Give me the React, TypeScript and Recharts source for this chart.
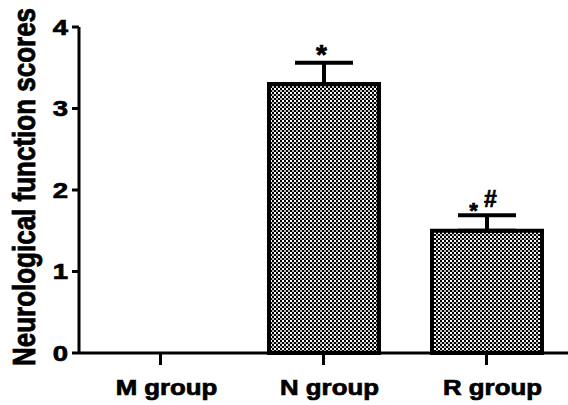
import React from 'react';
import { ComposedChart, Bar, Scatter, XAxis, YAxis, ErrorBar, Label } from 'recharts';

const groups = ['M group', 'N group', 'R group'];
const scores = [0, 3.3, 1.5];
const errors = [null, 0.26, 0.19];
const marks = ['', '*', '*#'];
const yTicks = [0, 1, 2, 3, 4];

const data = groups.map((group, i) => ({
  group,
  score: scores[i],
  err: errors[i] == null ? undefined : [0, errors[i] as number],
  top: errors[i] == null ? null : scores[i] + (errors[i] as number),
  mark: marks[i],
}));

const FONT = '"Liberation Sans", Arial, Helvetica, sans-serif';

// heavier text, close to the thick Helvetica of the original
const txt = {
  fontFamily: FONT,
  fontWeight: 'bold' as const,
  fill: '#000',
  stroke: '#000',
  strokeWidth: 0.7,
};

function XTick({ x, y, payload }: any) {
  return (
    <text transform={`translate(${x + 6}, ${y + 30}) scale(1.2, 1)`} textAnchor="middle" fontSize={21.5} {...txt}>
      {payload.value}
    </text>
  );
}

function YTick({ x, y, payload }: any) {
  return (
    <text transform={`translate(${x}, ${y}) scale(1.25, 1)`} dy="0.36em" textAnchor="end" fontSize={22} {...txt}>
      {payload.value}
    </text>
  );
}

function YTitle() {
  return (
    <text transform="translate(35, 187) rotate(-90) scale(1, 1.18)" textAnchor="middle" fontSize={26} {...txt}>
      Neurological function scores
    </text>
  );
}

function Mark({ cx, cy, payload }: any) {
  if (!payload || !payload.mark || cx == null || cy == null || isNaN(cy)) return null;
  if (payload.mark === '*') {
    return (
      <text x={cx - 2} y={cy + 1} textAnchor="middle" fontSize={28} {...txt}>
        *
      </text>
    );
  }
  return (
    <g>
      <text x={cx - 13} y={cy + 3} textAnchor="middle" fontSize={22} {...txt}>
        *
      </text>
      <text x={cx + 4} y={cy - 8} textAnchor="middle" fontSize={23} {...txt}>
        #
      </text>
    </g>
  );
}

export default function App() {
  return (
    <div style={{ position: 'absolute', left: 0, top: 0, background: '#fff' }}>
      <ComposedChart width={568} height={405} data={data} margin={{ top: 27, right: 0, bottom: 0, left: 0 }}>
        <defs>
          <pattern id="checker" width="4" height="4" patternUnits="userSpaceOnUse">
            <rect x="0" y="0" width="4" height="4" fill="#fff" />
            <rect x="0" y="0" width="2" height="2" fill="#000" />
            <rect x="2" y="2" width="2" height="2" fill="#000" />
            <rect x="0" y="2" width="2" height="2" fill="#bbb" />
          </pattern>
        </defs>
        <XAxis
          dataKey="group"
          height={52}
          tick={<XTick />}
          tickSize={12}
          tickMargin={0}
          axisLine={{ stroke: '#000', strokeWidth: 3 }}
          tickLine={{ stroke: '#000', strokeWidth: 3 }}
          interval={0}
        />
        <YAxis
          width={79}
          domain={[0, 4]}
          ticks={yTicks}
          tick={<YTick />}
          tickSize={7}
          tickMargin={4}
          axisLine={{ stroke: '#000', strokeWidth: 3 }}
          tickLine={{ stroke: '#000', strokeWidth: 3 }}
        >
          <Label content={<YTitle />} />
        </YAxis>
        <Bar
          dataKey="score"
          barSize={110}
          fill="url(#checker)"
          stroke="#000"
          strokeWidth={4}
          isAnimationActive={false}
        >
          <ErrorBar dataKey="err" width={29} strokeWidth={4} stroke="#000" direction="y" />
        </Bar>
        <Scatter dataKey="top" shape={<Mark />} isAnimationActive={false} />
      </ComposedChart>
    </div>
  );
}
